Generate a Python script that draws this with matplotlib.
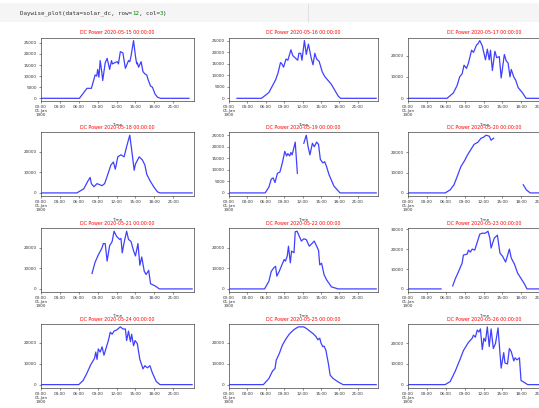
import numpy as np
import matplotlib
matplotlib.use("Agg")
import matplotlib.pyplot as plt

nan = np.nan

# ---- daily DC power readings (hour of day, DC power)
h_0515 = [0, 6.1, 7.3, 8.0, 8.6, 8.85, 9.0, 9.2, 9.4, 9.65, 9.8, 10.2, 10.5, 10.75, 10.9,
          11.2, 11.35, 11.7, 12.1, 12.3, 12.6, 13.0, 13.4, 13.9, 14.1, 14.3, 14.7, 15.0,
          15.2, 15.3, 15.5, 15.9, 16.2, 16.5, 16.8, 17.0, 17.4, 17.7, 18.1, 18.5, 19.0, 23.5]
dc_0515 = [0, 0, 4500, 4500, 10500, 10000, 13000, 9500, 17000, 12000, 8000, 16000, 18000,
           15000, 13000, 17000, 15500, 16000, 16500, 15500, 21000, 20500, 13500, 17000,
           16500, 19000, 26000, 19000, 15500, 16000, 14000, 16500, 12000, 11000, 10500,
           8500, 5500, 5000, 2000, 500, 0, 0]

h_0516 = [1.3, 5.3, 6.5, 7.0, 7.6, 8.0, 8.4, 8.6, 8.9, 9.3, 9.6, 10.1, 10.4, 10.8, 11.2,
          11.4, 11.7, 11.9, 12.3, 12.6, 12.95, 13.4, 13.7, 14.0, 14.3, 14.7, 15.2, 15.6,
          16.7, 17.8, 18.2, 24.0]
dc_0516 = [0, 0, 2500, 5000, 8000, 11000, 15500, 15000, 13500, 17000, 16500, 21000, 18500,
           17500, 16500, 19500, 19500, 16500, 25000, 19000, 23500, 17500, 14500, 19500,
           17000, 16000, 11500, 9500, 6000, 1000, 0, 0]

h_0517 = [0, 6.2, 7.2, 7.8, 8.2, 8.6, 8.9, 9.3, 9.6, 10.1, 10.4, 10.9, 11.1, 11.4, 11.8,
          12.3, 12.6, 12.9, 13.1, 13.4, 13.8, 14.1, 14.5, 14.8, 15.3, 15.6, 15.9, 16.2,
          16.4, 16.8, 17.1, 17.5, 18.2, 18.75, 24.0]
dc_0517 = [0, 0, 2500, 6000, 10000, 11500, 15500, 14000, 16500, 22500, 21500, 25000, 25500,
           27000, 24500, 18000, 23000, 18000, 22500, 13000, 22000, 19000, 19500, 9500,
           20500, 17500, 16500, 10000, 13500, 10000, 8500, 5000, 2500, 0, 0]

h_0518 = [0, 5.7, 6.8, 7.4, 7.8, 8.0, 8.4, 8.9, 9.3, 9.7, 10.1, 10.5, 11.1, 11.5, 11.8,
          12.2, 12.7, 13.2, 13.6, 14.1, 14.5, 14.8, 15.0, 15.6, 16.1, 16.5, 16.8, 17.3,
          17.9, 18.5, 18.9, 24.0]
dc_0518 = [0, 0, 2000, 5500, 7500, 4500, 3000, 4500, 4000, 3500, 4500, 8000, 13500, 15000,
           11500, 17500, 18500, 17500, 22500, 28000, 18500, 11000, 14000, 17500, 16000,
           13500, 9000, 6000, 3000, 500, 0, 0]

h_0519 = [0, 5.9, 6.5, 6.9, 7.2, 7.5, 7.9, 8.3, 8.7, 9.1, 9.4, 9.6, 9.9, 10.1, 10.3, 10.8,
          11.15, 11.5, 12.2, 12.6, 12.9, 13.2, 13.6, 13.9, 14.3, 14.6, 14.9, 15.3, 15.6,
          15.9, 16.3, 17.1, 18.1, 24.0]
dc_0519 = [0, 0, 2500, 6000, 6500, 4500, 8500, 9000, 13000, 18000, 16000, 17000, 16000,
           17500, 16500, 22000, 8500, nan, 21500, 25000, 20000, 16500, 21500, 20000, 22000,
           21000, 14500, 13000, 13500, 11500, 8000, 3000, 0, 0]

h_0520 = [0, 5.9, 6.7, 7.3, 7.8, 8.4, 9.0, 9.4, 9.9, 10.5, 11.1, 11.6, 12.0, 12.4, 12.9,
          13.2, 13.6, 15.5, 18.3, 18.8, 19.4, 24.0]
dc_0520 = [0, 0, 1500, 4000, 8000, 13000, 16000, 18500, 21000, 24000, 25000, 27000, 27500,
           28500, 28000, 26000, 27000, nan, 4000, 1500, 0, 0]

h_0521 = [8.1, 8.6, 9.1, 9.7, 9.9, 10.2, 10.5, 10.9, 11.3, 11.6, 12.0, 12.5, 12.7, 12.9,
          13.2, 13.6, 13.9, 14.3, 14.7, 15.0, 15.4, 15.7, 16.0, 16.4, 16.7, 17.1, 17.4,
          18.1, 18.8, 24.0]
dc_0521 = [7500, 13000, 16500, 20000, 22000, 22000, 13500, 21000, 23000, 28000, 25500,
           24000, 24500, 17500, 22500, 28000, 24000, 23000, 18500, 16000, 22000, 11500,
           15500, 8500, 7000, 9000, 2500, 1500, 0, 0]

h_0522 = [0, 5.8, 6.5, 6.9, 7.3, 7.6, 7.8, 8.2, 8.6, 9.0, 9.2, 9.5, 9.7, 10.0, 10.2, 10.6,
          10.8, 11.1, 11.8, 12.2, 12.6, 13.1, 13.5, 13.9, 14.3, 14.6, 14.8, 15.1, 15.5,
          15.9, 16.7, 17.8, 18.4, 24.0]
dc_0522 = [0, 0, 3700, 8600, 10200, 11000, 6200, 8600, 11500, 14300, 13500, 16000, 20800,
           12700, 18400, 17600, 27800, 28100, 23300, 24400, 24000, 20800, 22000, 23300,
           20800, 18800, 11700, 12500, 7000, 4500, 1000, 0, 0, 0]

h_0523 = [0, 5.25, 6.0, 7.1, 7.5, 8.0, 8.6, 8.8, 9.4, 9.6, 9.9, 10.2, 10.6, 11.0, 11.4,
          11.8, 12.3, 12.7, 13.0, 13.2, 13.7, 14.2, 14.6, 15.0, 15.5, 16.1, 16.4, 16.9,
          17.4, 18.1, 18.5, 18.9, 24.0]
dc_0523 = [0, 0, nan, 1500, 5000, 8500, 13000, 17000, 17500, 19500, 18500, 20000, 19500,
           23500, 27500, 28000, 28000, 29000, 25500, 20500, 25500, 27000, 18000, 16500,
           13500, 20000, 15500, 12500, 8000, 4500, 2500, 0, 0]

h_0524 = [0, 6.0, 6.7, 7.3, 7.9, 8.5, 8.7, 8.9, 9.1, 9.4, 9.7, 10.0, 10.4, 10.7, 11.0, 11.3,
          11.6, 12.0, 12.6, 13.0, 13.4, 13.6, 13.9, 14.2, 14.4, 14.7, 14.95, 15.3, 15.7,
          16.2, 16.5, 16.9, 17.3, 17.7, 18.3, 18.9, 24.0]
dc_0524 = [0, 0, 2000, 5500, 9500, 12500, 15500, 12000, 17000, 15500, 18000, 14000, 18000,
           21000, 25000, 24000, 25500, 26000, 27500, 26500, 26500, 21000, 25500, 20500,
           24000, 18500, 21000, 19500, 12000, 7500, 9000, 8000, 9000, 5500, 1500, 0, 0]

h_0525 = [0, 5.6, 6.5, 6.9, 7.1, 7.5, 7.7, 8.2, 8.7, 9.3, 9.9, 10.6, 11.3, 12.2, 12.7, 13.2,
          13.7, 14.2, 14.5, 14.8, 15.0, 15.3, 15.5, 15.8, 16.2, 16.5, 17.0, 17.8, 18.6, 24.0]
dc_0525 = [0, 0, 2900, 5300, 6500, 7700, 11700, 14900, 18900, 22000, 24500, 26400, 27700,
           27700, 26800, 25600, 24500, 23000, 21500, 22300, 20000, 18200, 18500, 16500,
           10200, 4500, 2900, 1300, 0, 0]

h_0526 = [0, 5.9, 6.7, 7.5, 8.3, 8.8, 9.6, 10.2, 10.4, 10.7, 11.0, 11.25, 11.5, 11.8, 12.05,
          12.3, 12.6, 12.9, 13.2, 13.55, 13.9, 14.3, 14.6, 14.8, 15.2, 15.4, 15.8, 16.1,
          16.4, 16.8, 17.0, 17.3, 17.7, 17.95, 18.5, 19.0, 24.0]
dc_0526 = [0, 0, 1500, 6500, 12500, 16500, 20500, 22500, 24000, 23000, 26500, 25500, 27000,
           17000, 22500, 21000, 28000, 18500, 27000, 17500, 20000, 27500, 15500, 8000,
           15500, 10500, 10000, 17500, 16000, 11500, 13000, 12000, 13000, 2000, 1000, 0, 0]

days = ["2020-05-15", "2020-05-16", "2020-05-17", "2020-05-18", "2020-05-19", "2020-05-20",
        "2020-05-21", "2020-05-22", "2020-05-23", "2020-05-24", "2020-05-25", "2020-05-26"]
hours = [h_0515, h_0516, h_0517, h_0518, h_0519, h_0520,
         h_0521, h_0522, h_0523, h_0524, h_0525, h_0526]
power = [dc_0515, dc_0516, dc_0517, dc_0518, dc_0519, dc_0520,
         dc_0521, dc_0522, dc_0523, dc_0524, dc_0525, dc_0526]
ytick_step = [5000, 5000, 10000, 10000, 5000, 10000,
              10000, 10000, 10000, 10000, 10000, 10000]
xtick_hours = [0, 3, 6, 9, 12, 15, 18, 21]
xtick_labels = ["00:00\n01-Jan\n1900", "03:00", "06:00", "09:00", "12:00", "15:00", "18:00", "21:00"]

W, H = 539, 408
fig = plt.figure(figsize=(W / 100, H / 100), dpi=100)

# notebook code cell strip at the top
fig.patches.append(plt.Rectangle((0, 1 - 22 / H), 1, 19 / H, transform=fig.transFigure,
                                 facecolor="#f5f5f5", edgecolor="none", zorder=0))
fig.add_artist(plt.Line2D([308 / W, 308 / W], [1 - 22 / H, 1 - 4 / H],
                          transform=fig.transFigure, color="#dddddd", lw=0.6))
fig.text(20 / W, 1 - 13.5 / H, "Daywise_plot(data=solar_dc, row=", family="DejaVu Sans Mono",
         fontsize=4.2, color="#333333", va="center")
code_parts = [("12", "#008800"), (", col=", "#333333"), ("3", "#008800"), (")", "#333333")]
x0 = 20 + 32 * 3.5
for txt, col in code_parts:
    fig.text(x0 / W, 1 - 13.5 / H, txt, family="DejaVu Sans Mono", fontsize=4.2, color=col,
             va="center")
    x0 += len(txt) * 3.5

# axes positions in pixels (cropped screenshot: third column runs off the edge)
col_left = [41, 229, 408]
col_width = [153, 149, 153]
row_top = [37.7, 132.3, 228.3, 324]
row_h = 63.5

for i in range(12):
    r, c = divmod(i, 3)
    ax = fig.add_axes([col_left[c] / W, 1 - (row_top[r] + row_h) / H,
                       col_width[c] / W, row_h / H])
    ax.plot(hours[i], power[i], color="blue", alpha=0.75, lw=0.9)
    ax.set_xlim(0, 24.3)
    top = np.nanmax(power[i])
    ax.set_ylim(-top * 0.05, top * 1.05)
    ax.set_yticks(np.arange(0, top * 1.05, ytick_step[i]))
    ax.set_xticks(xtick_hours)
    ax.set_xticklabels(xtick_labels, linespacing=1.0)
    ax.tick_params(labelsize=3.0, length=1.5, width=0.4, pad=1.5, colors="#333333")
    for s in ax.spines.values():
        s.set_linewidth(0.5)
        s.set_color("#444444")
    ax.set_title("DC Power %s 00:00:00" % days[i], color="red", fontsize=3.4, pad=2.5)
    ax.set_xlabel("Time", fontsize=3.0, color="#333333", labelpad=4)

fig.savefig("out.png", dpi=100)
